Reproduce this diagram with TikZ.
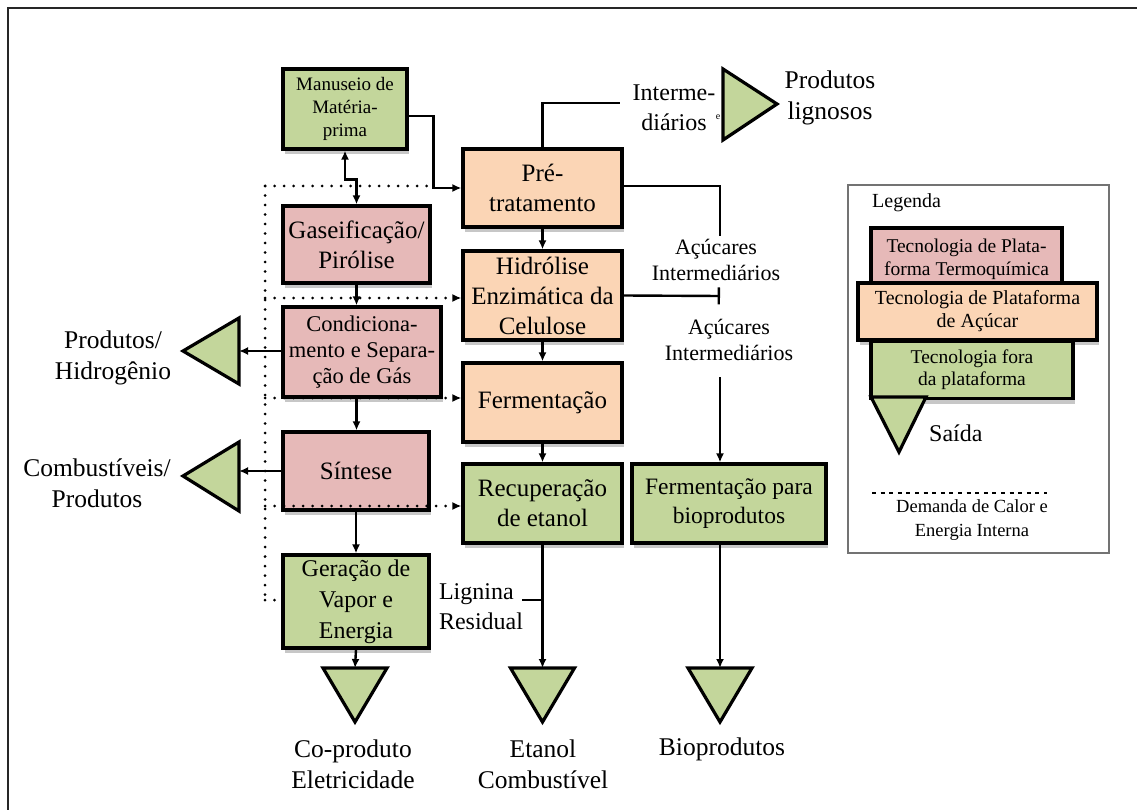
\documentclass[tikz,border=0pt]{standalone}
\usepackage{fontspec}
\setmainfont{Liberation Serif}
\usetikzlibrary{arrows.meta,shadows,calc}
\definecolor{gr}{HTML}{C3D69B}
\definecolor{pk}{HTML}{E6B9B8}
\definecolor{og}{HTML}{FBD5B5}
\begin{document}
\begin{tikzpicture}[x=1pt,y=-1pt,
  box/.style={draw, line width=3.2pt, inner sep=1pt, align=center,
    drop shadow={shadow xshift=2pt, shadow yshift=-5pt, opacity=0.22, fill=black}},
  gbox/.style={box, fill=gr},
  pbox/.style={box, fill=pk},
  obox/.style={box, fill=og},
  big/.style={font=\fontsize{25}{30}\selectfont},
  lbl/.style={align=center, inner sep=1pt, font=\fontsize{25.5}{31}\selectfont},
  mid/.style={align=center, inner sep=1pt, font=\fontsize{22}{26}\selectfont},
  conn/.style={line width=2.4pt},
  arr/.style={conn, -{Latex[length=9pt,width=8pt]}},
  dots/.style={line width=3pt, line cap=round, dash pattern=on 0pt off 9.5pt},
  darr/.style={dots, -{Latex[length=9pt,width=8pt]}},
  tri/.style={draw, line width=3.2pt, fill=gr, line join=miter},
]
\useasboundingbox (0,0) rectangle (1140,810);
\fill[white] (0,0) rectangle (1140,810);
% outer frame
\draw[line width=1.6pt, black!85] (8,810) -- (8,8) -- (1137,8);

% dotted heat/energy demand lines (behind boxes)
\coordinate (d0) at (265,186);
\coordinate (d1) at (265,298);
\coordinate (d2) at (265,398);
\coordinate (d3) at (265,506);
\coordinate (d4) at (265,600);
\draw[dots] (d0) -- (d4);
\draw[dots] (d0) -- (430,186);
\draw[dots] (d4) -- (436,600);

% boxes
\node[gbox, minimum width=124pt, minimum height=80pt, font=\fontsize{19}{23}\selectfont] (man) at (345,109) {Manuseio de\\Matéria-\\prima};
\node[pbox, minimum width=147pt, minimum height=77pt, big] (gas) at (356.5,244.5) {Gaseificação/\\Pirólise};
\node[pbox, minimum width=158pt, minimum height=90pt, font=\fontsize{22.5}{26}\selectfont] (cond) at (362,352) {Condiciona-\\mento e Separa-\\ção de Gás};
\node[pbox, minimum width=146pt, minimum height=78pt, big] (sint) at (356,471) {Síntese};
\node[gbox, minimum width=146pt, minimum height=93pt, font=\fontsize{24}{31}\selectfont] (ger) at (356,601.5) {Geração de\\Vapor e\\Energia};
\node[obox, minimum width=159pt, minimum height=78pt, big] (pre) at (542.5,188) {Pré-\\tratamento};
\node[obox, minimum width=159pt, minimum height=89pt, big] (hid) at (542.5,295.5) {Hidrólise\\Enzimática da\\Celulose};
\node[obox, minimum width=159pt, minimum height=79pt, big] (fer) at (542.5,402.5) {Fermentação};
\node[gbox, minimum width=159pt, minimum height=79pt, big] (rec) at (542.5,503.5) {Recuperação\\de etanol};
\node[gbox, minimum width=194pt, minimum height=79pt, font=\fontsize{23.5}{29}\selectfont] (bio) at (729,503.5) {Fermentação para\\bioprodutos};

% dotted arrows into the sugar-platform column
\draw[darr] (d1) -- (hid.west |- d1);
\draw[darr] (d2) -- (fer.west |- d2);
\draw[darr] (d3) -- (rec.west |- d3);

% output triangles
\coordinate (tH) at (239,351);
\coordinate (tC) at (239,471);
\coordinate (tCo) at (355,668);
\coordinate (tE) at (542.5,668);
\coordinate (tB) at (720,668);
\draw[tri] (239,318) -- (239,384) -- (183,351) -- cycle;
\draw[tri] (239,442) -- (239,511) -- (183,476) -- cycle;
\draw[tri] (723,69) -- (723,140) -- (777,104) -- cycle;
\draw[tri] (323,668) -- (387,668) -- (355,722) -- cycle;
\draw[tri] (510.5,668) -- (574.5,668) -- (542.5,722) -- cycle;
\draw[tri] (688,668) -- (752,668) -- (720,722) -- cycle;

% labels
\node[lbl] (hlab) at (113,358) {Produtos/\\Hidrogênio};
\node[lbl] (clab) at (97,483) {Combustíveis/\\Produtos};
\node[lbl] (colab) at (353,764) {Co-produto\\Eletricidade};
\node[lbl] (etlab) at (543,764) {Etanol\\Combustível};
\node[lbl] (biolab) at (722,749) {Bioprodutos};
\node[align=center, inner sep=1pt, font=\fontsize{24}{30}\selectfont] (intlab) at (674,108) {Interme-\\diários};
\node[inner sep=0pt, font=\fontsize{10}{10}\selectfont] (esm) at (718,117) {e};
\node[lbl] (lglab) at (830,98) {Produtos\\lignosos};
\node[mid] (acu1) at (716,260) {Açúcares\\Intermediários};
\node[mid] (acu2) at (729,340) {Açúcares\\Intermediários};
\node[align=left, inner sep=1pt, font=\fontsize{24}{30}\selectfont] (lig) at (481,607) {Lignina\\Residual};

% connectors
\coordinate (pI) at (620,103);
\coordinate (a1top) at (720,236);
\coordinate (hidT) at (720,296);
\coordinate (a2bot) at (720,377);
\coordinate (ligj) at (542.5,600);
\coordinate (ligend) at (522,600);
\draw[arr] ([yshift=-7pt]man.east) -| ([xshift=-28pt]pre.west) -- (pre.west);
\draw[conn, {Latex[length=9pt,width=8pt]}-{Latex[length=9pt,width=8pt]}] (man.south) -- ++(0,29) -| (gas.north);
\draw[arr] (gas.south) -- (gas.south |- cond.north);
\draw[arr] (gas.south |- cond.south) -- (gas.south |- sint.north);
\draw[arr] (sint.south) -- (sint.south |- ger.north);
\draw[arr] (ger.south) -- (tCo);
\draw[arr] (cond.west |- tH) -- (tH);
\draw[arr] (sint.west |- tC) -- (tC);
\draw[conn] (pre.north) |- (pI);
\draw[arr] (pre.south) -- (hid.north);
\draw[arr] (hid.south) -- (fer.north);
\draw[arr] (fer.south) -- (rec.north);
\draw[conn] (pre.east |- 0,186) -| (a1top);
\draw[conn, -{Bar[width=17pt]}] (hid.east) -- (hidT);
\draw[arr] (a2bot) -- (a2bot |- bio.north);
\draw[arr] (bio.south -| tB) -- (tB);
\draw[arr] (rec.south) -- (tE);
\draw[conn] (ligj) -- (ligend);

% legend
\node[draw=black!55, line width=1.5pt, minimum width=261pt, minimum height=368pt] (leg) at (978.5,369) {};
\node[anchor=west, inner sep=0pt, font=\fontsize{20}{24}\selectfont] (legt) at (872,203) {Legenda};
\node[pbox, minimum width=191pt, minimum height=62pt, font=\fontsize{19.5}{23}\selectfont] (lp) at (966.5,259) {Tecnologia de Plata-\\forma Termoquímica};
\node[obox, minimum width=239pt, minimum height=57pt, font=\fontsize{20}{23}\selectfont] (lo) at (977.5,311.5) {Tecnologia de Plataforma\\de Açúcar};
\node[gbox, minimum width=202pt, minimum height=57pt, font=\fontsize{19.5}{22}\selectfont] (lg) at (972,370) {Tecnologia fora\\da plataforma};
\draw[tri] (871,397) -- (926,397) -- (899,452) -- cycle;
\node[anchor=west, inner sep=0pt, font=\fontsize{24}{28}\selectfont] (lsai) at (929,433) {Saída};
\coordinate (ld0) at (872,493);
\coordinate (ld1) at (1047,493);
\draw[line width=2pt, dash pattern=on 4pt off 4.6pt] (ld0) -- (ld1);
\node[align=center, inner sep=0pt, font=\fontsize{18.5}{24}\selectfont] (ldem) at (972,520) {Demanda de Calor e\\Energia Interna};
\end{tikzpicture}
\end{document}
